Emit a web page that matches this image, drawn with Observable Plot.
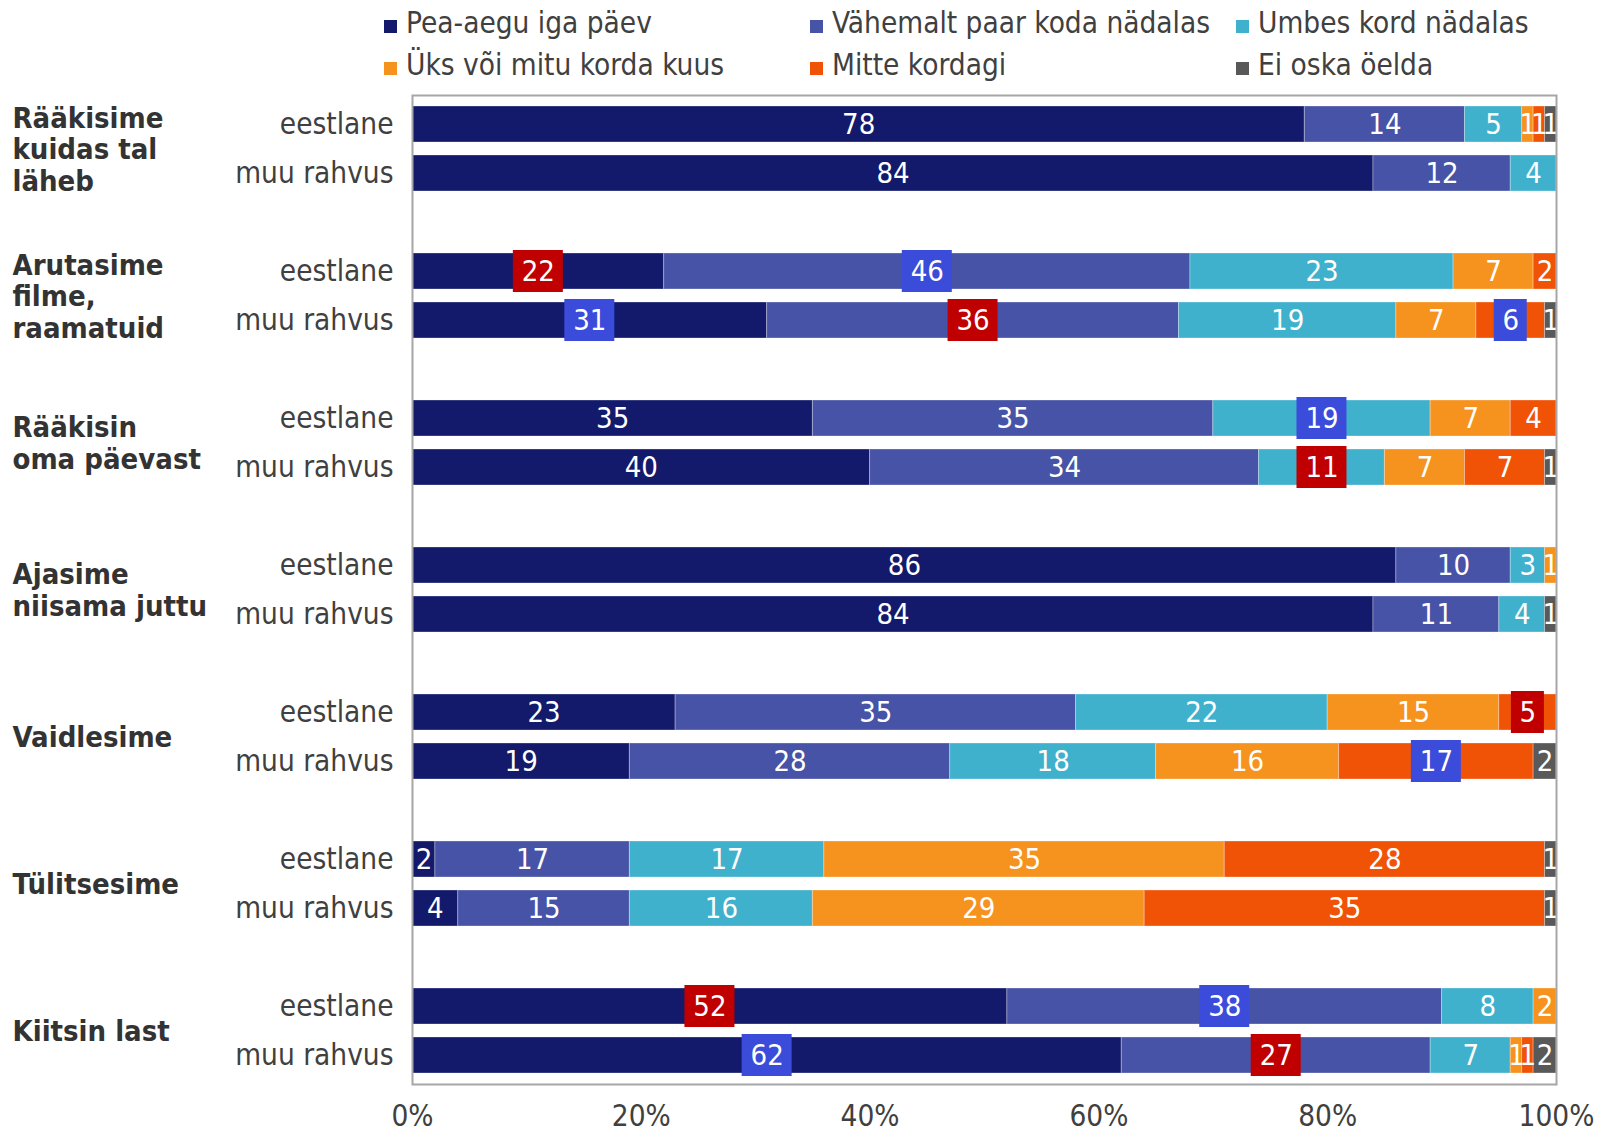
<!DOCTYPE html>
<html><head><meta charset="utf-8">
<script src="https://cdn.jsdelivr.net/npm/d3@7"></script>
<script src="https://cdn.jsdelivr.net/npm/@observablehq/plot@0.6"></script>
<style>
body{margin:0;background:#fff;font-family:"DejaVu Sans Condensed","DejaVu Sans",sans-serif;}
#legend{position:relative;height:88px;width:1598px;}
#chart svg{display:block;}
.item{position:absolute;font-size:29.5px;color:#404040;line-height:30px;height:30px;white-space:nowrap;display:flex;align-items:center;}
.sw{display:inline-block;width:13px;height:13px;margin-right:9px;position:relative;top:3px;}
</style></head><body>
<div id="legend"></div><div id="chart"></div>
<script>
// ---- data ----
const categories = ["Pea-aegu iga päev","Vähemalt paar koda nädalas","Umbes kord nädalas","Üks või mitu korda kuus","Mitte kordagi","Ei oska öelda"];
const colors = ["#131a6b","#4753a6","#3fb1cd","#f6921e","#f05206","#595959"];
const groups = ["Rääkisime\nkuidas tal\nläheb","Arutasime\nfilme,\nraamatuid","Rääkisin\noma päevast","Ajasime\nniisama juttu","Vaidlesime","Tülitsesime","Kiitsin last"];
const nationalities = ["eestlane","muu rahvus"];
const valuesEestlane = [
  [78,14,5,1,1,1],
  [22,46,23,7,2,0],
  [35,35,19,7,4,0],
  [86,10,3,1,0,0],
  [23,35,22,15,5,0],
  [2,17,17,35,28,1],
  [52,38,8,2,0,0]
];
const valuesMuu = [
  [84,12,4,0,0,0],
  [31,36,19,7,6,1],
  [40,34,11,7,7,1],
  [84,11,4,0,0,1],
  [19,28,18,16,17,2],
  [4,15,16,29,35,1],
  [62,27,7,1,1,2]
];
// [group index, nationality, category index, highlight kind]
const highlights = [
  [1,"eestlane",0,"red"],[1,"eestlane",1,"blue"],
  [1,"muu rahvus",0,"blue"],[1,"muu rahvus",1,"red"],[1,"muu rahvus",4,"blue"],
  [2,"eestlane",2,"blue"],[2,"muu rahvus",2,"red"],
  [4,"eestlane",4,"red"],[4,"muu rahvus",4,"blue"],
  [6,"eestlane",0,"red"],[6,"eestlane",1,"blue"],
  [6,"muu rahvus",0,"blue"],[6,"muu rahvus",1,"red"]
];
const xTicks = [0,20,40,60,80,100];

// ---- legend ----
const legendPos = [[384,8],[810,8],[1236,8],[384,50],[810,50],[1236,50]];
const legend = document.getElementById("legend");
categories.forEach((c,i)=>{
  const d = document.createElement("div");
  d.className = "item";
  d.style.left = legendPos[i][0]+"px"; d.style.top = legendPos[i][1]+"px";
  d.innerHTML = `<span class="sw" style="background:${colors[i]}"></span><span>${c}</span>`;
  legend.appendChild(d);
});

// ---- table ----
const table = [];
const yDomain = [];
const dataKeys = [];
groups.forEach((g,gi)=>{
  nationalities.forEach((n,ni)=>{
    const key = gi+"|"+n;
    yDomain.push(key); dataKeys.push(key);
    const vals = ni===0 ? valuesEestlane[gi] : valuesMuu[gi];
    let acc = 0;
    vals.forEach((v,ci)=>{
      const h = highlights.find(h=>h[0]===gi && h[1]===n && h[2]===ci);
      table.push({row:key, group:g, nat:n, category:categories[ci], value:v, mid:acc+v/2, hl:h?h[3]:null});
      acc += v;
    });
  });
  if (gi < groups.length-1) yDomain.push(gi+"|gap");
});
const hl = table.filter(d=>d.hl);
const groupRows = groups.map((g,gi)=>({group:g, row:gi+"|eestlane"}));

const MT = 7, MB = 48, H = 1044;
const step = (H-MT-MB)/yDomain.length;
const FONT = '"DejaVu Sans Condensed","DejaVu Sans",sans-serif';

const chart = Plot.plot({
  width:1598, height:H,
  marginTop:MT, marginBottom:MB, marginLeft:412, marginRight:42,
  style:{fontFamily:FONT, fontSize:"29.5px", color:"#404040", overflow:"visible"},
  x:{domain:[0,100], label:null},
  y:{domain:yDomain, paddingInner:0.27, paddingOuter:0.135, label:null},
  color:{domain:categories, range:colors},
  marks:[
    Plot.barX(table, Plot.stackX({x:"value", y:"row", z:"category", fill:"category", stroke:"#ffffff", strokeOpacity:0.3, strokeWidth:1})),
    Plot.barX(hl.filter(d=>d.value<10), {x1:"mid", x2:"mid", y:"row", fill:d=>d.hl==="red"?"#c00000":"#3b4cdb", insetLeft:-16.5, insetRight:-16.5, insetTop:-3, insetBottom:-3}),
    Plot.barX(hl.filter(d=>d.value>=10), {x1:"mid", x2:"mid", y:"row", fill:d=>d.hl==="red"?"#c00000":"#3b4cdb", insetLeft:-25, insetRight:-25, insetTop:-3, insetBottom:-3}),
    Plot.text(table, Plot.stackX({x:"value", y:"row", z:"category", text:d=>d.value>0?String(d.value):null, fill:"white", fontSize:29})),
    Plot.axisY({ticks:dataKeys, tickFormat:k=>k.split("|")[1], tickSize:0, tickPadding:19, fontSize:29.5, label:null}),
    Plot.axisX({ticks:xTicks, tickFormat:d=>d+"%", tickSize:0, tickPadding:21, fontSize:29.5, label:null}),
    Plot.text(groupRows, {y:"row", text:"group", frameAnchor:"left", dx:-400, dy:step/2, textAnchor:"start", lineAnchor:"middle", lineHeight:1.1, fontWeight:"bold", fontSize:29, fill:"#333333"}),
    Plot.frame({stroke:"#a6a6a6", strokeWidth:2})
  ]
});
document.getElementById("chart").appendChild(chart);
</script>
</body></html>
